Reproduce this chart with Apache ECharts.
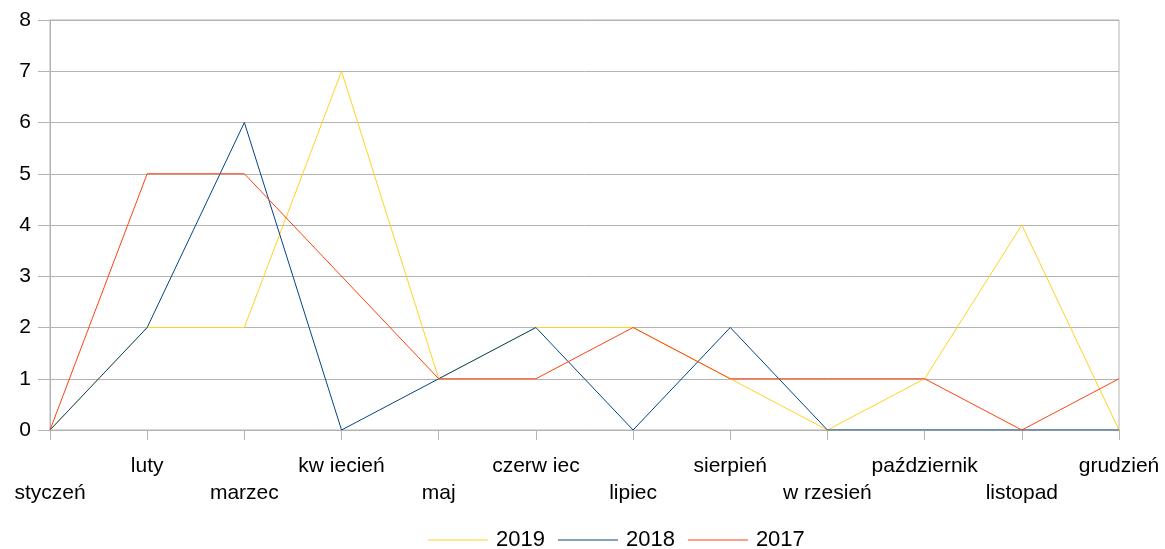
<!DOCTYPE html>
<html>
<head>
<meta charset="utf-8">
<script src="https://cdn.jsdelivr.net/npm/echarts@6/dist/echarts.min.js"></script>
<style>
  html, body { margin: 0; padding: 0; background: #fff; }
  #chart { width: 1165px; height: 549px; }
</style>
</head>
<body>
<div id="chart"></div>
<script>
var months = ['styczeń', 'luty', 'marzec', 'kw iecień', 'maj', 'czerw iec', 'lipiec', 'sierpień', 'w rzesień', 'październik', 'listopad', 'grudzień']
var data2019 = [0, 2, 2, 7, 1, 2, 2, 1, 0, 1, 4, 0]
var data2018 = [0, 2, 6, 0, 1, 2, 0, 2, 0, 0, 0, 0]
var data2017 = [0, 5, 5, 3, 1, 1, 2, 1, 1, 1, 0, 1]

var chart = echarts.init(document.getElementById('chart'))
var font = 'Liberation Sans, Arial, sans-serif'

function lineSeries(name, color, values) {
  return {
    name: name,
    type: 'line',
    data: values,
    symbol: 'none',
    animation: false,
    lineStyle: { color: color, width: 1 },
    itemStyle: { color: color }
  }
}

chart.setOption({
  textStyle: { fontFamily: font },
  grid: { left: 50, right: 46, top: 20, bottom: 119, show: true, borderColor: '#b3b3b3', borderWidth: 1 },
  legend: {
    top: 529,
    left: 428,
    padding: 0,
    icon: 'rect',
    itemWidth: 60,
    itemHeight: 1,
    itemGap: 13,
    textStyle: { fontSize: 22, color: '#000', fontFamily: font, padding: [0, 0, 0, 3] },
    data: ['2019', '2018', '2017']
  },
  xAxis: {
    type: 'category',
    data: months,
    boundaryGap: false,
    axisLine: { lineStyle: { color: '#b3b3b3' } },
    axisTick: { show: true, length: 10, interval: 0, lineStyle: { color: '#b3b3b3' } },
    axisLabel: {
      interval: 0,
      margin: 23,
      fontSize: 21,
      lineHeight: 27,
      color: '#000',
      formatter: function (value, index) {
        // co drugi podpis w dolnym rzedzie
        return index % 2 === 0 ? '\n' + value : value
      }
    },
    splitLine: { show: false }
  },
  yAxis: {
    type: 'value',
    min: 0,
    max: 8,
    interval: 1,
    axisLine: { show: true, lineStyle: { color: '#b3b3b3' } },
    axisTick: { show: true, length: 12, lineStyle: { color: '#b3b3b3' } },
    axisLabel: { fontSize: 21, color: '#000', margin: 19 },
    splitLine: { lineStyle: { color: '#b3b3b3' } }
  },
  series: [
    lineSeries('2019', '#ffd320', data2019),
    lineSeries('2018', '#004586', data2018),
    lineSeries('2017', '#ff420e', data2017)
  ]
})
</script>
</body>
</html>
